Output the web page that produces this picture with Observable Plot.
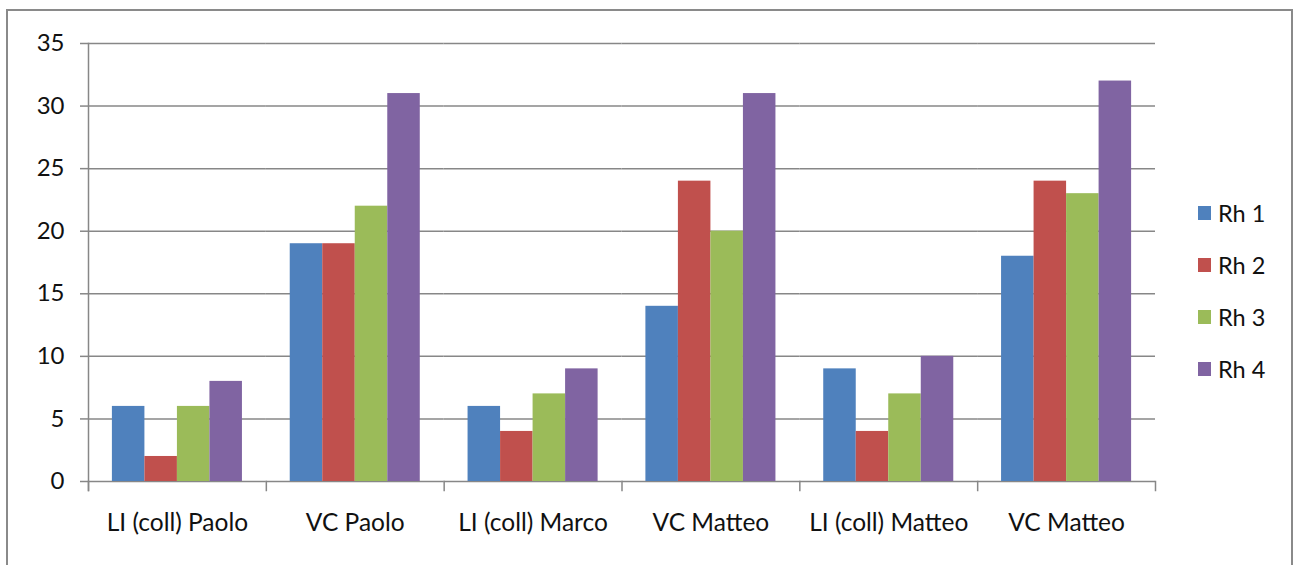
<!DOCTYPE html>
<html>
<head>
<meta charset="utf-8">
<script src="https://cdn.jsdelivr.net/npm/d3@7"></script>
<script src="https://cdn.jsdelivr.net/npm/@observablehq/plot@0.6"></script>
<style>
  html, body { margin: 0; padding: 0; background: #fff; }
  #wrap { position: relative; width: 1294px; height: 565px; overflow: hidden; font-family: Lato, "Open Sans", sans-serif; }
  #border { position: absolute; left: 6px; top: 9px; width: 1287px; height: 560px; border: 2px solid #8a8a8a; box-sizing: border-box; }
  #chart { position: absolute; left: 0; top: 0; }
  #legend { position: absolute; left: 1198px; top: 199px; }
  .item { display: flex; align-items: center; height: 28px; margin-bottom: 24px; font-size: 23.5px; color: #111; }
  .swatch { width: 13px; height: 14px; margin-right: 7px; }
</style>
</head>
<body>
<div id="wrap">
  <div id="border"></div>
  <div id="chart"></div>
  <div id="legend"></div>
</div>
<script>
// Categories along the x axis (two groups share the label "VC Matteo")
const categories = ["LI (coll) Paolo", "VC Paolo", "LI (coll) Marco", "VC Matteo", "LI (coll) Matteo", "VC Matteo"];
const series = ["Rh 1", "Rh 2", "Rh 3", "Rh 4"];
const colors = ["#4f81bd", "#c0504d", "#9bbb59", "#8064a2"];
const rh1 = [6, 19, 6, 14, 9, 18];
const rh2 = [2, 19, 4, 24, 4, 24];
const rh3 = [6, 22, 7, 20, 7, 23];
const rh4 = [8, 31, 9, 31, 10, 32];
const yTicks = [0, 5, 10, 15, 20, 25, 30, 35];

const values = [rh1, rh2, rh3, rh4];
// unique key per category so duplicated labels stay separate groups
const keys = categories.map((_, i) => "c" + i);
const rows = [];
keys.forEach((k, i) => series.forEach((s, j) => rows.push({key: k, series: s, value: values[j][i]})));

const width = 1294, height = 565;
const margin = {top: 43, right: 139, bottom: 84, left: 88};
const plotH = height - margin.top - margin.bottom;
const axisColor = "#878787";

const chart = Plot.plot({
  width, height,
  marginTop: margin.top, marginRight: margin.right, marginBottom: margin.bottom, marginLeft: margin.left,
  style: {fontFamily: "Lato, 'Open Sans', sans-serif", fontSize: "24px", color: "#111", background: "transparent"},
  fx: {domain: keys, padding: 0, round: false, label: null},
  x: {domain: series, paddingInner: 0, paddingOuter: 0.735, round: false, axis: null},
  y: {domain: [0, 35], label: null},
  color: {domain: series, range: colors},
  marks: [
    Plot.gridY(yTicks, {stroke: axisColor, strokeOpacity: 1, strokeWidth: 1.5}),
    Plot.barY(rows, {fx: "key", x: "series", y: "value", fill: "series"}),
    Plot.axisY(yTicks, {tickSize: 8, tickPadding: 16, stroke: axisColor, strokeWidth: 1.5, fill: "#111", fontSize: 24, label: null}),
    // y axis line, extended down to the category tick length
    Plot.frame({anchor: "left", facetAnchor: "left", insetBottom: -9, stroke: axisColor, strokeWidth: 1.5}),
    // category boundary ticks below the baseline
    Plot.frame({anchor: "left", insetTop: plotH, insetBottom: -9, stroke: axisColor, strokeWidth: 1.5}),
    Plot.frame({anchor: "right", facetAnchor: "right", insetTop: plotH, insetBottom: -9, stroke: axisColor, strokeWidth: 1.5}),
    Plot.axisFx({anchor: "bottom", tickSize: 0, tickPadding: 32, tickFormat: k => categories[keys.indexOf(k)], fill: "#111", fontSize: 24.5, label: null})
  ]
});
document.getElementById("chart").appendChild(chart);

// legend column to the right of the plot
const legend = document.getElementById("legend");
series.forEach((s, i) => {
  const item = document.createElement("div");
  item.className = "item";
  const sw = document.createElement("span");
  sw.className = "swatch";
  sw.style.background = colors[i];
  const label = document.createElement("span");
  label.textContent = s;
  item.appendChild(sw);
  item.appendChild(label);
  legend.appendChild(item);
});
</script>
</body>
</html>
